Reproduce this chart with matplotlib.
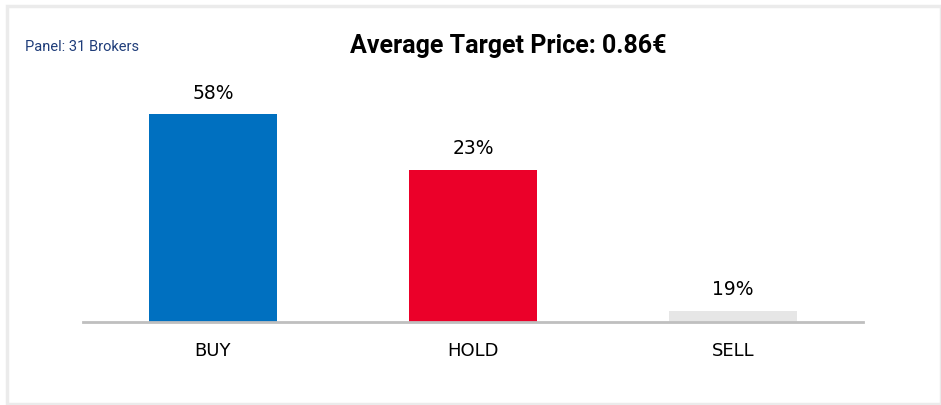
import matplotlib.pyplot as plt
from matplotlib.patches import Rectangle

# Broker recommendations
categories = ['BUY', 'HOLD', 'SELL']
shares = ['58%', '23%', '19%']
# bar heights as drawn in the source chart (not proportional to the labels)
bar_heights = [58, 42.4, 3.1]
colors = ['#0070c0', '#eb0029', '#e6e6e6']

title = 'Average Target Price: 0.86€'
panel = 'Panel: 31 Brokers'

W, H = 941, 406
fig = plt.figure(figsize=(W / 100, H / 100), dpi=100)
fig.patch.set_facecolor('white')

# light grey frame around the panel
fig.patches.append(Rectangle((6.5 / W, 1.5 / H), (W - 7) / W, (H - 8) / H,
                             transform=fig.transFigure, fill=False,
                             edgecolor='#ebebeb', linewidth=2.5))

# axes placed in pixels: baseline at y=323, x from 83 to 863
ax = fig.add_axes([83 / W, 1 - 323 / H, 780 / W, 253 / H])
x = range(len(categories))
bars = ax.bar(x, bar_heights, width=0.49, color=colors, zorder=2)

ax.set_xlim(-0.5, 2.5)
ax.set_ylim(0, 70.55)
for s in ['top', 'right', 'left']:
    ax.spines[s].set_visible(False)
ax.spines['bottom'].set_color('#bfbfbf')
ax.spines['bottom'].set_linewidth(2)
ax.set_yticks([])
ax.set_xticks(list(x))
ax.set_xticklabels(categories, fontsize=13)
ax.tick_params(axis='x', length=0, pad=14)

for b, lab in zip(bars, shares):
    ax.annotate(lab, (b.get_x() + b.get_width() / 2, b.get_height()),
                xytext=(0, 9), textcoords='offset points',
                ha='center', va='bottom', fontsize=13.5)

fig.text(508 / W, 1 - 46 / H, title, ha='center', va='center',
         fontsize=18, fontweight='bold', family='Roboto')
fig.text(25 / W, 1 - 47 / H, panel, ha='left', va='center',
         fontsize=10.5, color='#1f3d7a', family='Roboto')

plt.savefig('out.png', dpi=100)
